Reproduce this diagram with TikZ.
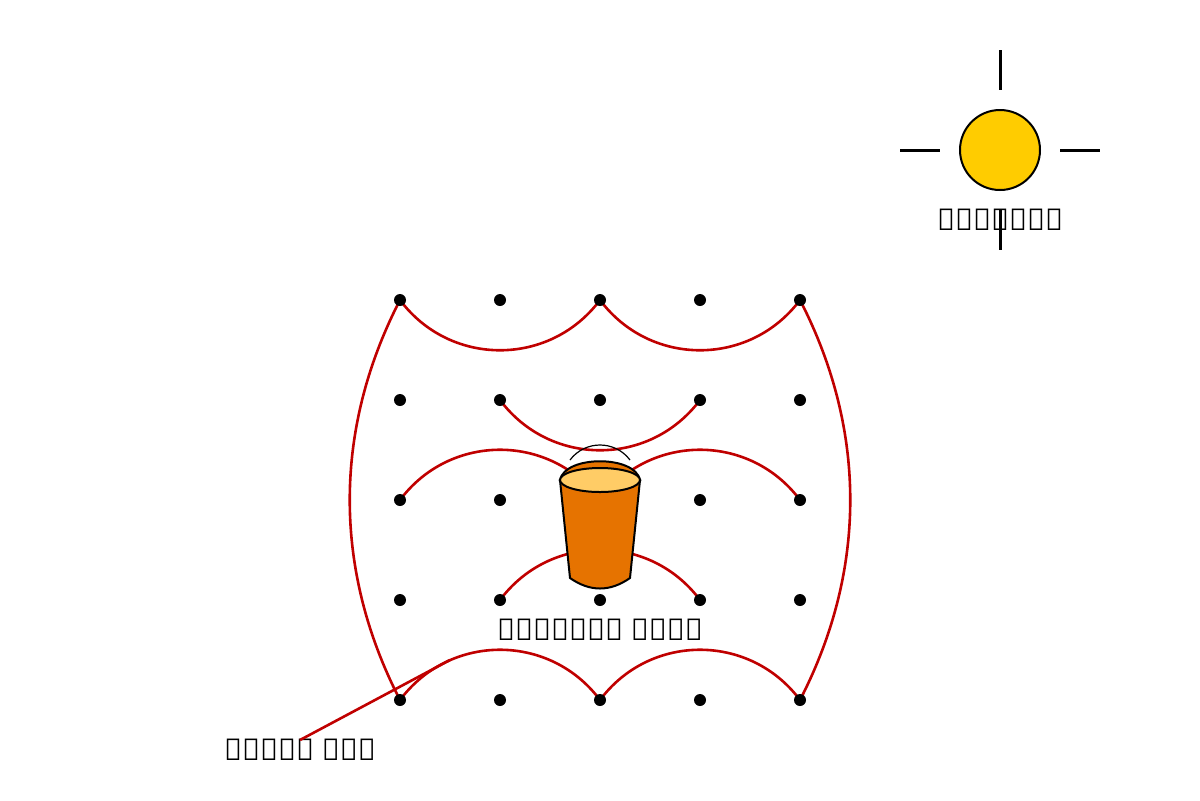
\documentclass[tikz,border=0pt]{standalone}
\usepackage{fontspec}
\setmainfont{Noto Sans}
\definecolor{kolamred}{HTML}{C00000}
\definecolor{potorange}{HTML}{E67300}
\definecolor{potlid}{HTML}{FFCC66}
\definecolor{sunyellow}{HTML}{FFCC00}
\tikzset{
  kolam/.style={draw=kolamred, line width=1.3pt},
  ray/.style={draw=black, line width=1.5pt},
  lbl/.style={font=\fontsize{15}{18}\selectfont}
}
\begin{document}
\begin{tikzpicture}[x=0.5pt,y=-0.5pt]
  \useasboundingbox (0,0) rectangle (1200,800);

  % dot grid
  \foreach \i in {0,...,4}
    \foreach \j in {0,...,4}
      \coordinate (d\i\j) at (400+100*\i, 300+100*\j);

  % kolam lines
  \draw[kolam] (d00) .. controls (450,367) and (550,367) .. (d20);
  \draw[kolam] (d20) .. controls (650,367) and (750,367) .. (d40);
  \draw[kolam] (d00) .. controls (333,430) and (333,570) .. (d04);
  \draw[kolam] (d40) .. controls (867,430) and (867,570) .. (d44);
  \draw[kolam] (d04) .. controls (450,633) and (550,633) .. (d24);
  \draw[kolam] (d24) .. controls (650,633) and (750,633) .. (d44);
  \draw[kolam] (d11) .. controls (550,467) and (650,467) .. (d31);
  \draw[kolam] (d02) .. controls (450,433) and (550,433) .. (d22);
  \draw[kolam] (d22) .. controls (650,433) and (750,433) .. (d42);
  \draw[kolam] (d13) .. controls (550,533) and (650,533) .. (d33);

  \foreach \i in {0,...,4}
    \foreach \j in {0,...,4}
      \fill (d\i\j) circle (3pt);

  % pot
  \coordinate (pot) at (600,480);
  \draw[line width=0.6pt] (570,460) .. controls (585,440) and (615,440) .. (630,460);
  \draw[fill=potorange, line width=1pt] (560,480) .. controls (565,455) and (635,455) .. (640,480) -- cycle;
  \draw[fill=potorange, line width=1pt] (560,480) -- (570,578) .. controls (590,592) and (610,592) .. (630,578) -- (640,480) -- cycle;
  \draw[fill=potlid, line width=1pt] (pot) ellipse (40 and 12);
  \node[lbl] (potlabel) at (600,630) {பொங்கல் பானை};

  % pointer
  \coordinate (kolamtip) at (450,660);
  \node[lbl] (kolamlabel) at (300,750) {கோலம் வரி};
  \draw[kolam] (300,740) -- (kolamtip);

  % sun
  \node[circle, draw, line width=1pt, fill=sunyellow, minimum size=40pt, inner sep=0pt] (sun) at (1000,150) {};
  \draw[ray] (1000,50) -- (1000,90);
  \draw[ray] (1000,210) -- (1000,250);
  \draw[ray] (900,150) -- (940,150);
  \draw[ray] (1060,150) -- (1100,150);
  \node[lbl] (sunlabel) at (1000,220) {சூரியன்};
\end{tikzpicture}
\end{document}
